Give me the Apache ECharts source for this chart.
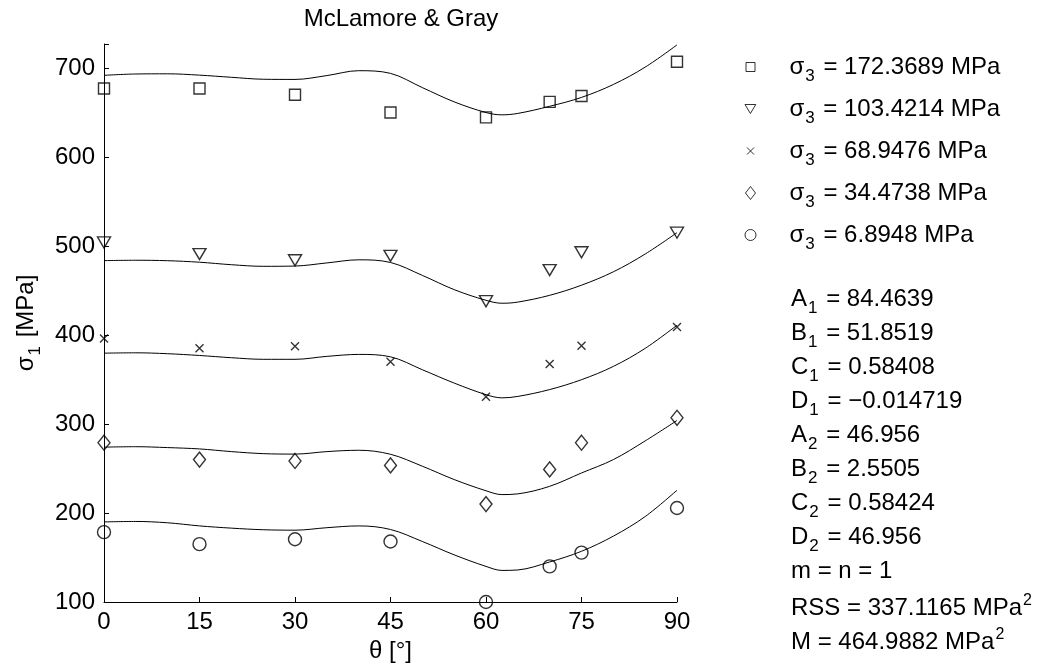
<!DOCTYPE html>
<html>
<head>
<meta charset="utf-8">
<script src="https://cdn.jsdelivr.net/npm/echarts@6/dist/echarts.min.js"></script>
<style>html,body{margin:0;padding:0;background:#fff}#c{width:1042px;height:668px}</style>
</head>
<body>
<div id="c"></div>
<script>
// ---- data ----
const xTicks = [0, 15, 30, 45, 60, 75, 90];
const yTicks = [100, 200, 300, 400, 500, 600, 700];
const thetaPts = [0, 15, 30, 45, 60, 70, 75, 90];
const sigma3Labels = ['172.3689', '103.4214', '68.9476', '34.4738', '6.8948'];

const pts172 = [677, 677, 670, 650, 644.5, 662, 668.5, 707];
const pts103 = [504, 491, 484, 489, 438, 473, 493, 515];
const pts69  = [396, 385, 387.5, 370, 330.5, 367.5, 388, 409];
const pts34  = [279, 260, 258.5, 253.5, 210, 249, 279, 307];
const pts7   = [178.5, 165, 170.5, 168, 100, 140, 155.5, 205.6];

const fitTheta = [0, 5, 10, 15, 20, 25, 30, 35, 40, 45, 50, 55, 60, 62.5, 65, 70, 75, 80, 85, 90];
const fit172 = [691.8, 693.3, 693.5, 692, 689.6, 687.4, 687.2, 691.5, 697, 694, 678, 662, 650, 647.4, 649, 657, 667, 681.5, 701, 726];
const fit103 = [483.6, 484, 483.5, 481.8, 479, 477.2, 477.5, 481, 484.5, 481.5, 467, 451, 439, 435.7, 437, 444.6, 456, 471, 491, 515];
const fit69  = [379.6, 380, 379, 377, 374.5, 372.7, 372.7, 376, 378.2, 375.5, 361, 346, 333, 329.4, 331, 338.7, 349.8, 364.7, 385, 411];
const fit34  = [274, 274.5, 273.5, 272, 269, 266.7, 266.2, 269, 270.5, 266, 252.6, 237.6, 225, 220.7, 221.5, 230, 245, 260, 281, 304];
const fit7   = [190, 190.5, 189, 185.5, 183, 181.2, 180.7, 183.5, 185.5, 181.5, 168, 153, 140, 135.5, 136, 145, 157, 174, 196, 225.6];

const params = [
  ['A', '1', ' = 84.4639', ''],
  ['B', '1', ' = 51.8519', ''],
  ['C', '1', ' = 0.58408', ''],
  ['D', '1', ' = \u22120.014719', ''],
  ['A', '2', ' = 46.956', ''],
  ['B', '2', ' = 2.5505', ''],
  ['C', '2', ' = 0.58424', ''],
  ['D', '2', ' = 46.956', ''],
  ['m = n = 1', '', '', ''],
  ['RSS = 337.1165 MPa', '', '', '2'],
  ['M = 464.9882 MPa', '', '', '2']
];

// ---- build ----
const FONT = 'Liberation Sans, Arial, Helvetica, sans-serif';
const FS = 24;
const SUB = 17;
const pair = (xs, ys) => xs.map((x, i) => [x, ys[i]]);

const symbols = [
  {sym: 'rect', size: 11},
  {sym: 'path://M0,0L12,0L6,10Z', size: [13, 11]},
  {sym: 'path://M0,0L10,10M0,10L10,0', size: 8},
  {sym: 'diamond', size: [12, 15]},
  {sym: 'circle', size: 13}
];
const ptsAll = [pts172, pts103, pts69, pts34, pts7];
const fitAll = [fit172, fit103, fit69, fit34, fit7];
const names = sigma3Labels.map(s => 'σ3 = ' + s + ' MPa');

const series = [];
fitAll.forEach((f, i) => {
  series.push({
    type: 'line', name: 'fit' + i, data: pair(fitTheta, f), smooth: 0.35,
    showSymbol: false, silent: true, clip: false,
    lineStyle: {color: '#000', width: 1}
  });
});
ptsAll.forEach((p, i) => {
  series.push({
    type: 'scatter', name: names[i], data: pair(thetaPts, p), clip: false,
    symbol: symbols[i].sym, symbolSize: symbols[i].size,
    itemStyle: {color: 'none', borderColor: '#000', borderWidth: 1.4},
    z: 5
  });
});

const legendIcons = [
  {sym: 'rect', w: 9, h: 9},
  {sym: 'path://M0,0L12,0L6,10Z', w: 11, h: 9},
  {sym: 'path://M0,0L10,10M0,10L10,0', w: 7, h: 7},
  {sym: 'diamond', w: 10, h: 13},
  {sym: 'circle', w: 11, h: 11}
];
const rowY = [70, 112, 154, 196, 238];
const legends = names.map((n, i) => ({
  show: true, orient: 'vertical', left: 748 - legendIcons[i].w / 2, top: rowY[i] - 15,
  itemWidth: legendIcons[i].w, itemHeight: legendIcons[i].h,
  selectedMode: false, padding: 0,
  data: [{name: n, icon: legendIcons[i].sym, itemStyle: {color: 'none', borderColor: '#000', borderWidth: 1}}],
  formatter: name => '{t0|σ}{s|3}{t| = ' + sigma3Labels[i] + ' MPa}',
  textStyle: {
    fontFamily: FONT, color: '#000',
    rich: {
      t0: {fontSize: FS, fontFamily: FONT, color: '#000', padding: [0, 0, 0, 34 - legendIcons[i].w / 2]},
      t: {fontSize: FS, fontFamily: FONT, color: '#000'},
      s: {fontSize: SUB, fontFamily: FONT, color: '#000', padding: [18, 2, 0, 1]}
    }
  }
}));

const graphics = params.map((p, i) => ({
  type: 'text', left: 791, top: 287 + i * 34.0,
  style: {
    rich: {
      t: {fontSize: FS, fontFamily: FONT, fill: '#000'},
      s: {fontSize: SUB, fontFamily: FONT, fill: '#000', padding: [18, 2, 0, 1]},
      u: {fontSize: 16, fontFamily: FONT, fill: '#000', padding: [0, 0, 14, 1]}
    },
    text: '{t|' + p[0] + '}' + (p[1] ? '{s|' + p[1] + '}' : '') + (p[2] ? '{t|' + p[2] + '}' : '') + (p[3] ? '{u|' + p[3] + '}' : '')
  }
}));

const chart = echarts.init(document.getElementById('c'), null, {renderer: 'canvas'});
chart.setOption({
  animation: false,
  backgroundColor: '#fff',
  title: {
    text: 'McLamore & Gray', left: 396, top: 2, textAlign: 'center',
    textStyle: {fontFamily: FONT, fontSize: 24, fontWeight: 'normal', color: '#000'}
  },
  grid: {left: 104, right: 365, top: 44, bottom: 66, containLabel: false},
  xAxis: {
    type: 'value', min: 0, max: 90, interval: 15,
    name: 'θ [°]', nameLocation: 'middle', nameGap: 37,
    nameTextStyle: {fontFamily: FONT, fontSize: FS, color: '#000'},
    axisLine: {lineStyle: {color: '#000', width: 1}},
    axisTick: {inside: true, length: 5, lineStyle: {color: '#000'}},
    axisLabel: {fontFamily: FONT, fontSize: FS, color: '#000', margin: 8,
      formatter: v => xTicks.indexOf(v) >= 0 ? String(v) : ''},
    splitLine: {show: false}
  },
  yAxis: {
    type: 'value', min: 100, max: 727, interval: 100,
    name: '{t|σ}{s|1}{t| [MPa]}', nameLocation: 'middle', nameGap: 60, nameRotate: 90,
    nameTextStyle: {fontFamily: FONT, fontSize: FS, color: '#000',
      rich: {
        t: {fontSize: FS, fontFamily: FONT, color: '#000'},
        s: {fontSize: SUB, fontFamily: FONT, color: '#000', padding: [18, 2, 0, 1]}
      }},
    axisLine: {lineStyle: {color: '#000', width: 1}},
    axisTick: {inside: true, length: 5, lineStyle: {color: '#000'}},
    axisLabel: {fontFamily: FONT, fontSize: FS, color: '#000', margin: 9,
      formatter: v => yTicks.indexOf(v) >= 0 ? String(v) : ''},
    splitLine: {show: false}
  },
  legend: legends,
  graphic: graphics,
  series: series
});
</script>
</body>
</html>
